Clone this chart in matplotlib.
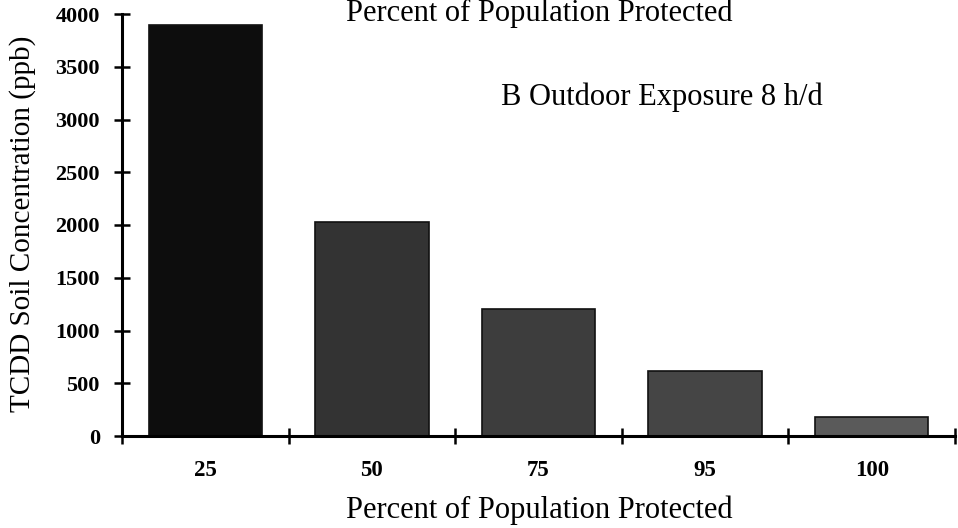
import matplotlib
matplotlib.use("Agg")
import matplotlib.pyplot as plt
import numpy as np

categories = ["25", "50", "75", "95", "100"]
values = [3900, 2030, 1200, 620, 180]
yticks = [0, 500, 1000, 1500, 2000, 2500, 3000, 3500, 4000]

plt.rcParams['font.family'] = ['Liberation Serif', 'DejaVu Serif']

fig = plt.figure(figsize=(9.58, 5.28), dpi=100)
ax = fig.add_axes([122/958, 1-436/528, (955-122)/958, (436-14)/528])

x = np.arange(len(categories))
colors = ['#0d0d0d', '#333333', '#3d3d3d', '#454545', '#5a5a5a']
ax.bar(x, values, width=0.68, color=colors, edgecolor='#111111', linewidth=1.2)

ax.set_xlim(-0.5, len(categories) - 0.5)
ax.set_ylim(0, 4000)
ax.set_yticks(yticks)
ax.set_yticklabels([str(v) for v in yticks], fontsize=16, fontweight='bold')
ax.set_xticks(x)
ax.set_xticklabels(categories, fontsize=16.5, fontweight='bold')
ax.set_xticks(np.arange(len(categories) + 1) - 0.5, minor=True)

ax.tick_params(axis='x', which='major', length=0, pad=17)
ax.tick_params(axis='x', which='minor', direction='inout', length=12, width=1.8)
ax.tick_params(axis='y', direction='inout', length=12, width=1.8, pad=10)

for s in ['top', 'right']:
    ax.spines[s].set_visible(False)
for s in ['left', 'bottom']:
    ax.spines[s].set_linewidth(2.2)

ax.text(0.455, 0.803, "B Outdoor Exposure 8 h/d", transform=ax.transAxes,
        fontsize=22, ha='left', va='center')

fig.text(0.5626, 1 - 21/528, "Percent of Population Protected", fontsize=22,
         ha='center', va='baseline')
fig.text(0.5626, 1 - 518/528, "Percent of Population Protected", fontsize=22,
         ha='center', va='baseline')
fig.text(0.023, 1 - 224/528, "TCDD Soil Concentration (ppb)", fontsize=21,
         rotation=90, ha='center', va='center')

fig.savefig("out.png", dpi=100)
